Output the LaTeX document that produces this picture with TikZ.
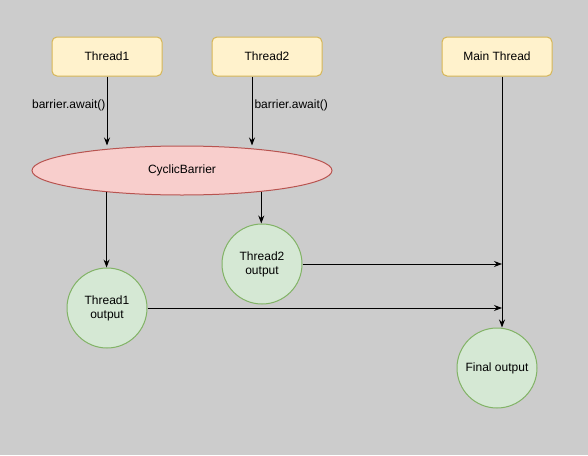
\documentclass[tikz,border=0pt]{standalone}
\usepackage{fontspec}
\setmainfont{Liberation Sans}
\usetikzlibrary{arrows.meta}
\usetikzlibrary{shapes.geometric}
\definecolor{bggray}{RGB}{204, 204, 204}
\definecolor{yellow1}{RGB}{255, 242, 204}
\definecolor{yellow2}{RGB}{214, 182, 86}
\definecolor{red1}{RGB}{248, 206, 204}
\definecolor{red2}{RGB}{184, 84, 80}
\definecolor{green1}{RGB}{213, 232, 212}
\definecolor{green2}{RGB}{130, 179, 102}

\begin{document}
\begin{tikzpicture}[x=1pt, y=-1pt, line width=1pt, >={Stealth[length=8pt,width=6pt]},
  font=\fontsize{12}{14}\selectfont,
  thread/.style={rectangle, rounded corners=5pt, fill=yellow1, draw=yellow2,
    minimum width=110pt, minimum height=39pt, inner sep=0pt},
  result/.style={circle, fill=green1, draw=green2, minimum size=80pt,
    inner sep=0pt, align=center}]
  \fill[bggray] (0,0) rectangle (588,455);
  \useasboundingbox (0,0) rectangle (588,455);

  \node[thread] (n1) at (107,56.5) {Thread1};
  \node[thread] (n2) at (267,56.5) {Thread2};
  \node[thread] (n3) at (497,56.5) {Main Thread};

  \node[ellipse, fill=red1, draw=red2, minimum width=300pt, minimum height=49pt,
    inner sep=0pt] (n4) at (182,170.5) {CyclicBarrier};

  \node[result] (n5) at (107,308) {Thread1\\output};
  \node[result] (n6) at (262,264) {Thread2\\output};
  \node[result] (n7) at (497,368) {Final output};

  \coordinate (c1) at ([xshift=5pt]n3.south);

  \draw[->] (n1) -- (n1 |- n4.north)
    node[pos=0.42, left, inner sep=1pt] {barrier.await()};
  \draw[->] ([xshift=-15pt]n2.south) -- ([xshift=-15pt]n2.south |- n4.north)
    node[pos=0.42, right, inner sep=2pt] {barrier.await()};
  \draw[->] (n4.196) -- (n4.196 |- n5.north);
  \draw[->] (n4.-15) -- (n4.-15 |- n6.north);
  \draw[->] (c1) -- (c1 |- n7.north);
  \draw[->] (n6) -- (c1 |- n6);
  \draw[->] (n5) -- (c1 |- n5);
\end{tikzpicture}
\end{document}
